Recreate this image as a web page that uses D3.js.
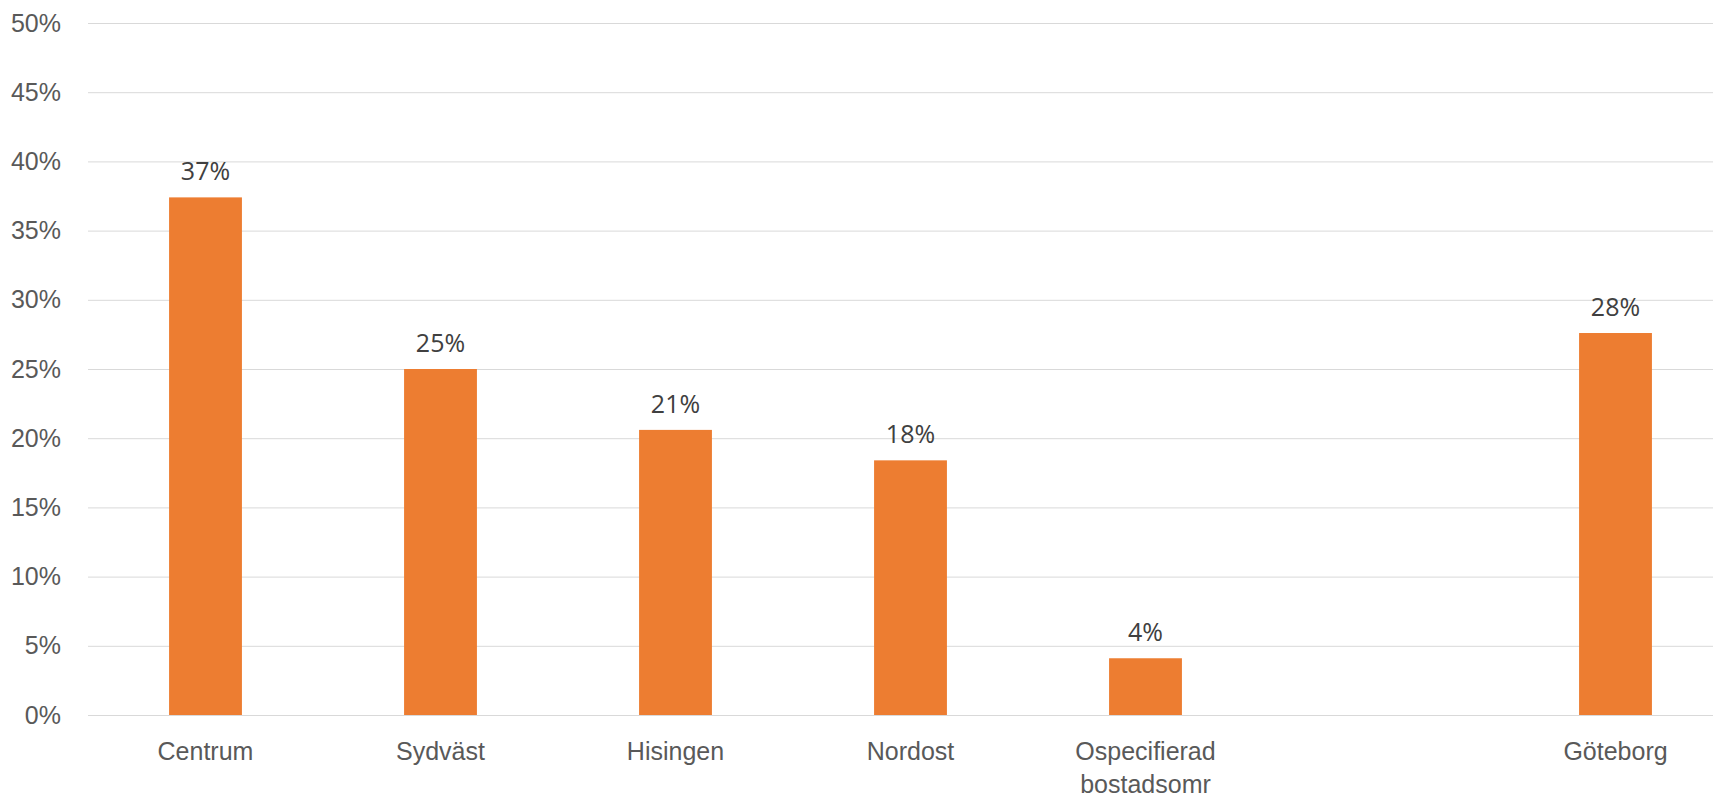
<!DOCTYPE html>
<html>
<head>
<meta charset="utf-8">
<script src="https://cdn.jsdelivr.net/npm/d3@7"></script>
<style>
  body { margin: 0; background: #fff; }
  svg { display: block; font-family: "Open Sans", "Noto Sans", sans-serif; }
</style>
</head>
<body>
<svg width="1713" height="798"></svg>
<script>
'use strict';

// categories, with an empty slot before the city total
const categories = ["Centrum", "Sydväst", "Hisingen", "Nordost", "Ospecifierad bostadsomr", "", "Göteborg"];
const values = [37.4, 25.0, 20.6, 18.4, 4.1, null, 27.6];
const valueLabels = ["37%", "25%", "21%", "18%", "4%", "", "28%"];
const yTicks = [0, 5, 10, 15, 20, 25, 30, 35, 40, 45, 50];

const svg = d3.select("svg");
const width = +svg.attr("width");
const marginLeft = 88;
const plotBottom = 715;
const plotTop = 23;
const step = 235;
const fontSize = "25px";

const x = d3.scaleBand()
  .domain(d3.range(categories.length))
  .range([marginLeft, marginLeft + step * categories.length])
  .paddingInner(0.69)
  .paddingOuter(0.345);

const y = d3.scaleLinear()
  .domain([0, 50])
  .range([plotBottom, plotTop]);

// gridlines + y labels
const yAxis = svg.append("g")
  .attr("transform", `translate(${marginLeft},0)`)
  .call(d3.axisLeft(y)
    .tickValues(yTicks)
    .tickSize(-(width - marginLeft))
    .tickPadding(27)
    .tickFormat(d => d + "%"));
yAxis.select(".domain").remove();
yAxis.selectAll("line").attr("stroke", "#d9d9d9").attr("stroke-width", 1);
yAxis.selectAll("text")
  .attr("fill", "#595959")
  .style("font-size", fontSize);

// bars
const data = categories.map((c, i) => ({i: i, name: c, value: values[i], label: valueLabels[i]}))
  .filter(d => d.value != null);

svg.append("g").selectAll("rect")
  .data(data)
  .join("rect")
  .attr("x", d => x(d.i))
  .attr("y", d => y(d.value))
  .attr("width", x.bandwidth())
  .attr("height", d => y(0) - y(d.value))
  .attr("fill", "#ed7d31");

// value labels
svg.append("g").selectAll("text")
  .data(data)
  .join("text")
  .attr("x", d => x(d.i) + x.bandwidth() / 2)
  .attr("y", d => y(d.value) - 17)
  .attr("text-anchor", "middle")
  .attr("fill", "#404040")
  .style("font-size", fontSize)
  .text(d => d.label);

// category labels
const xAxis = svg.append("g")
  .attr("transform", `translate(0,${plotBottom})`)
  .call(d3.axisBottom(x).tickSize(0).tickFormat(i => categories[i]));
xAxis.select(".domain").remove();
xAxis.selectAll("text")
  .attr("fill", "#595959")
  .style("font-size", fontSize)
  .attr("dy", null)
  .attr("y", 45)
  .each(function(i) {
    const t = d3.select(this);
    const words = categories[i].split(" ");
    t.text(null);
    words.forEach((w, k) => {
      t.append("tspan")
        .attr("x", 0)
        .attr("dy", k === 0 ? 0 : 33)
        .text(w);
    });
  });
</script>
</body>
</html>
